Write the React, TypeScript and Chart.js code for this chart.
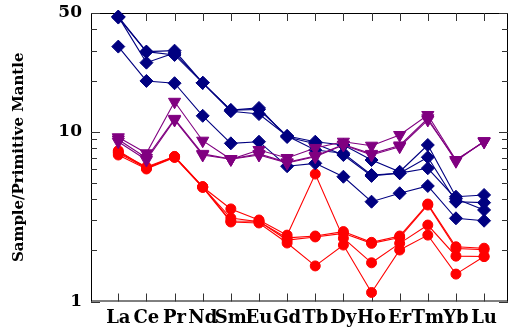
import { useEffect, useRef } from "react";
import { Chart, registerables } from "chart.js";

Chart.register(...registerables);

const elements = ["La", "Ce", "Pr", "Nd", "Sm", "Eu", "Gd", "Tb", "Dy", "Ho", "Er", "Tm", "Yb", "Lu"];

const navy1 = [47.6, 29.6, 30.0, 19.4, 13.4, 13.5, 9.43, 8.73, 8.35, 6.81, 5.81, 8.35, 4.14, 4.24];
const navy2 = [47.6, 25.5, 29.1, 19.4, 13.2, 12.7, 9.43, 7.8, 7.46, 5.56, 5.69, 7.07, 3.87, 3.82];
const navy3 = [47.0, 29.6, 28.3, 19.4, 13.4, 13.8, 9.3, 8.5, 7.29, 5.49, 5.7, 6.09, 4.03, 3.46];
const navy4 = [31.7, 19.9, 19.3, 12.4, 8.54, 8.73, 6.26, 6.51, 5.43, 3.87, 4.34, 4.79, 3.09, 2.99];

const purple1 = [9.27, 7.46, 15.0, 8.85, 6.88, 7.8, 7.0, 8.02, 8.73, 8.27, 9.56, 12.54, 6.81, 8.73];
const purple2 = [8.73, 6.81, 11.72, 7.29, 6.88, 7.29, 6.54, 7.12, 8.35, 7.29, 8.16, 11.72, 6.81, 8.73];
const purple3 = [9.0, 7.0, 11.9, 7.4, 6.9, 7.4, 6.6, 7.2, 8.4, 7.4, 8.3, 12.0, 6.7, 8.8];

const red1 = [7.73, 6.11, 7.12, 4.72, 3.51, 3.02, 2.46, 5.63, 2.36, 1.69, 2.2, 2.82, 1.85, 1.84];
const red2 = [7.49, 6.11, 7.1, 4.72, 3.1, 2.95, 2.37, 2.43, 2.58, 2.23, 2.43, 3.75, 2.1, 2.06];
const red3 = [7.29, 6.03, 7.05, 4.7, 2.94, 2.9, 2.21, 1.62, 2.15, 1.13, 2.01, 2.46, 1.45, 1.84];
const red4 = [7.6, 6.2, 7.15, 4.75, 2.98, 2.97, 2.3, 2.4, 2.52, 2.2, 2.38, 3.7, 2.05, 2.02];

const yTickValues = [1, 2, 3, 4, 5, 6, 7, 8, 9, 10, 20, 30, 40, 50];
const yLabelled = [1, 10, 50];

const NAVY = "#000080";
const PURPLE = "#800080";
const RED = "#ff0000";
const FONT = "'DejaVu Serif', serif";

const toPoints = (vals: number[]) => vals.map((v, i) => ({ x: i, y: v }));

const framePlugin = {
  id: "frameTicks",
  beforeDatasetsDraw(chart: any) {
    const { ctx, chartArea: a, scales } = chart;
    const xs = scales.x;
    const ys = scales.y;
    ctx.save();
    const line = (x1: number, y1: number, x2: number, y2: number) => {
      ctx.beginPath();
      ctx.moveTo(x1, y1);
      ctx.lineTo(x2, y2);
      ctx.stroke();
    };
    ctx.strokeStyle = "#000";
    ctx.lineWidth = 1;
    line(a.left + 0.5, a.top, a.left + 0.5, a.bottom);
    line(a.left, a.top + 0.5, a.right, a.top + 0.5);
    line(a.left, a.bottom - 0.5, a.right, a.bottom - 0.5);
    line(a.right - 0.5, a.top, a.right - 0.5, a.bottom);
    ctx.strokeStyle = "#333";
    elements.forEach((_, i) => {
      const px = Math.round(xs.getPixelForValue(i)) + 0.5;
      line(px, a.top, px, a.top + 8);
      line(px, a.bottom, px, a.bottom - 8);
    });
    yTickValues.forEach((v) => {
      const py = Math.round(ys.getPixelForValue(v)) + 0.5;
      const len = yLabelled.includes(v) ? 9 : 6;
      line(a.left, py, a.left + len, py);
      line(a.right, py, a.right - len, py);
    });
    ctx.restore();
  },
};

export default function App() {
  const ref = useRef<HTMLCanvasElement>(null);

  useEffect(() => {
    if (!ref.current) return;
    const mk = (data: number[], color: string, style: string, radius: number, rotation = 0) => ({
      data: toPoints(data),
      borderColor: color,
      backgroundColor: color,
      borderWidth: 1.1,
      pointStyle: style,
      pointRadius: radius,
      pointRotation: rotation,
      pointBorderWidth: 1,
      pointBorderColor: color,
      pointBackgroundColor: color,
      clip: false,
      tension: 0,
    });
    const chart = new Chart(ref.current, {
      type: "line",
      data: {
        datasets: [
          mk(purple1, PURPLE, "triangle", 7, 180),
          mk(purple2, PURPLE, "triangle", 7, 180),
          mk(purple3, PURPLE, "triangle", 7, 180),
          mk(navy1, NAVY, "rectRot", 6.5),
          mk(navy2, NAVY, "rectRot", 6.5),
          mk(navy3, NAVY, "rectRot", 6.5),
          mk(navy4, NAVY, "rectRot", 6.5),
          mk(red1, RED, "circle", 5),
          mk(red2, RED, "circle", 5),
          mk(red3, RED, "circle", 5),
          mk(red4, RED, "circle", 5),
        ] as any,
      },
      options: {
        animation: false,
        responsive: false,
        maintainAspectRatio: false,
        layout: { autoPadding: false, padding: { top: 13, right: 1, left: 0, bottom: 0 } },
        plugins: { legend: { display: false }, tooltip: { enabled: false } },
        scales: {
          x: {
            type: "linear",
            min: -0.97,
            max: 13.85,
            grid: { display: false, drawTicks: false },
            border: { display: false },
            afterBuildTicks: (scale: any) => {
              scale.ticks = elements.map((_, i) => ({ value: i }));
            },
            afterFit: (scale: any) => {
              scale.height = 28.5;
              scale.paddingLeft = 0;
              scale.paddingRight = 0;
            },
            ticks: {
              autoSkip: false,
              maxRotation: 0,
              minRotation: 0,
              padding: 6,
              color: "#000",
              font: { family: FONT, weight: "bold", size: 18 },
              callback: (v: any) => elements[v] ?? "",
            },
          },
          y: {
            type: "logarithmic",
            min: 1,
            max: 50,
            grid: { display: false, drawTicks: false },
            border: { display: false },
            afterBuildTicks: (scale: any) => {
              scale.ticks = yTickValues.map((v) => ({ value: v }));
            },
            afterFit: (scale: any) => {
              scale.width = 91;
              scale.paddingTop = 0;
              scale.paddingBottom = 0;
            },
            ticks: {
              autoSkip: false,
              padding: 9,
              color: "#000",
              font: { family: FONT, weight: "bold", size: 17 },
              callback: (v: any) => (yLabelled.includes(Number(v)) ? String(v) : ""),
            },
            title: {
              display: true,
              text: "Sample/Primitive Mantle",
              color: "#000",
              padding: { top: 10, bottom: 0 },
              font: { family: FONT, weight: "bold", size: 15 },
            },
          },
        },
      },
      plugins: [framePlugin],
    });
    return () => chart.destroy();
  }, []);

  return (
    <div style={{ position: "fixed", left: 0, top: 0, width: 509, height: 330, background: "#fff" }}>
      <canvas ref={ref} width={509} height={330} style={{ width: 509, height: 330, display: "block" }} />
    </div>
  );
}
